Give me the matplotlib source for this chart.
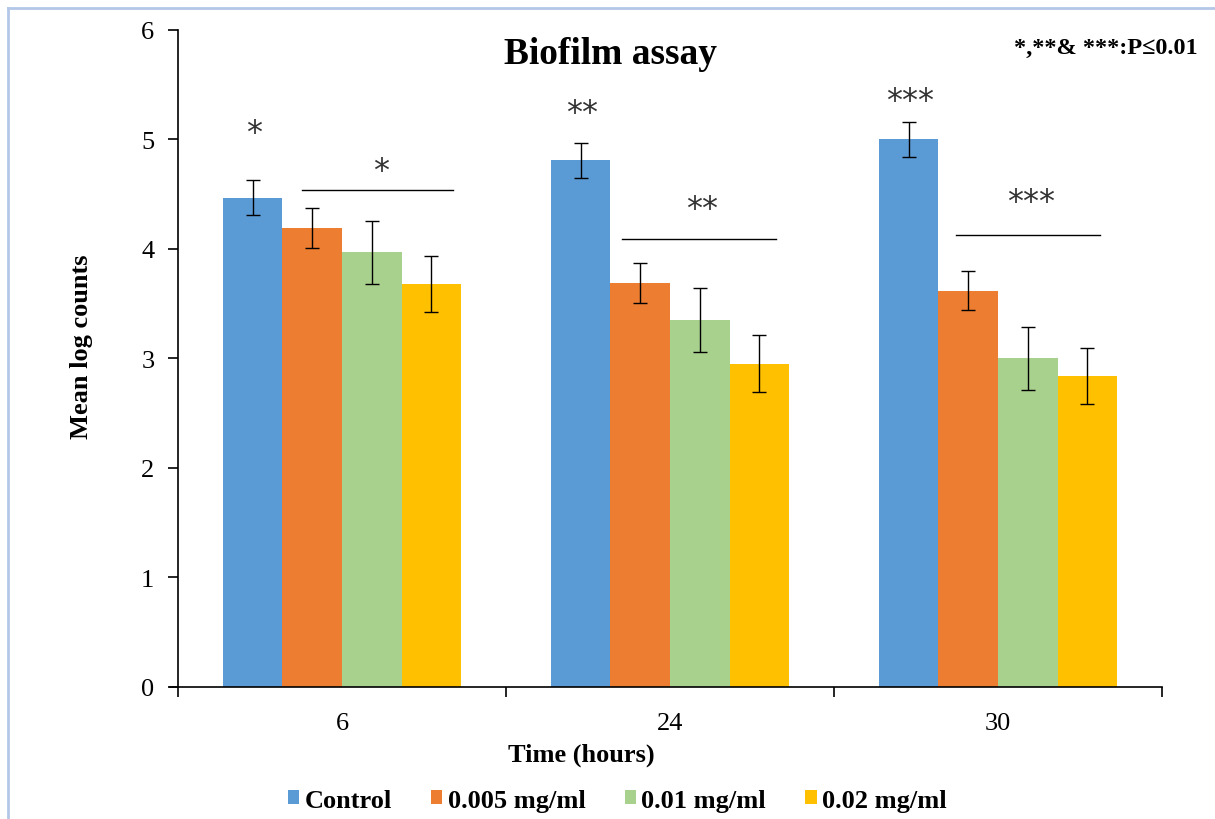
import numpy as np
import matplotlib.pyplot as plt
from matplotlib.lines import Line2D

# --- data ---
times = ["6", "24", "30"]
groups = ["Control", "0.005 mg/ml", "0.01 mg/ml", "0.02 mg/ml"]
control = [4.47, 4.81, 5.00]
c0005 = [4.19, 3.69, 3.62]
c001 = [3.97, 3.35, 3.00]
c002 = [3.68, 2.95, 2.84]
err_control = [0.16, 0.16, 0.16]
err_0005 = [0.18, 0.18, 0.18]
err_001 = [0.29, 0.29, 0.29]
err_002 = [0.26, 0.26, 0.26]
stars = ["*", "**", "***"]

colors = ["#5B9BD5", "#ED7D31", "#A9D18E", "#FFC000"]
series = [control, c0005, c001, c002]
errs = [err_control, err_0005, err_001, err_002]

# annotation layout (in data units)
star_y = [5.11, 5.30, 5.41]            # stars over control bars
line_y = [4.54, 4.09, 4.13]            # bracket lines over treated bars
line_span = [(-0.122, 0.338), (-0.146, 0.323), (-0.128, 0.311)]
line_star_gap = [0.23, 0.33, 0.35]

serif = ["Liberation Serif", "DejaVu Serif"]
plt.rcParams["font.family"] = serif

fig = plt.figure(figsize=(12.15, 8.2), dpi=100)
ax = fig.add_axes([0.1465, 0.161, 0.8099, 0.8012])

x = np.arange(len(times))
w = 1 / 5.5
offs = (np.arange(4) - 1.5) * w

for k in range(4):
    ax.bar(x + offs[k], series[k], width=w, color=colors[k], label=groups[k],
           zorder=2)
    ax.errorbar(x + offs[k], series[k], yerr=errs[k], fmt="none", ecolor="black",
                elinewidth=1.0, capsize=5, capthick=1.0, zorder=3)

# significance marks
star_font = dict(family=["DejaVu Sans"], fontsize=23, color="#333333",
                 ha="center", va="center")
for i in range(3):
    ax.text(x[i] + offs[0] + 0.005, star_y[i] - 0.05, stars[i], **star_font)
    ax.plot([x[i] + line_span[i][0], x[i] + line_span[i][1]], [line_y[i], line_y[i]],
            color="black", lw=1.0, zorder=3)
    ax.text(x[i] + (line_span[i][0] + line_span[i][1]) / 2 + 0.01,
            line_y[i] + line_star_gap[i] - 0.05, stars[i], **star_font)

ax.set_xlim(-0.5, 2.5)
ax.set_ylim(0, 6)
ax.set_yticks(range(7))
ax.set_xticks(x)
ax.set_xticklabels(times)
ax.set_xticks([-0.5, 0.5, 1.5, 2.5], minor=True)
ax.tick_params(axis="x", which="major", length=0, labelsize=19, pad=18)
ax.tick_params(axis="x", which="minor", length=7, width=1.2, direction="out")
ax.tick_params(axis="y", length=7, width=1.2, direction="out", labelsize=19, pad=10)
for s in ["top", "right"]:
    ax.spines[s].set_visible(False)
for s in ["left", "bottom"]:
    ax.spines[s].set_linewidth(1.2)
ax.spines["bottom"].set_bounds(-0.525, 2.5)

ax.set_xlabel("Time (hours)", fontsize=19, fontweight="bold")
ax.xaxis.set_label_coords(0.41, -0.085)
ax.set_ylabel("Mean log counts", fontsize=19, fontweight="bold")
ax.yaxis.set_label_coords(-0.086, 0.52)
ax.set_title("Biofilm assay", fontsize=27, fontweight="bold", x=0.44, y=0.937)

fig.text(0.986, 0.941, "*,**& ***:P\u22640.01",
         fontsize=17.5, fontweight="bold", ha="right", va="center",
         family=serif)

ax.legend(loc="lower center", bbox_to_anchor=(0.508, -0.004), bbox_transform=fig.transFigure,
          ncol=4, frameon=False, prop=dict(family=serif, weight="bold", size=19),
          handlelength=0.42, handleheight=0.42, handletextpad=0.2, columnspacing=1.5,
          borderaxespad=0.0)

# light frame on top and left edge
fig.add_artist(Line2D([0.0065, 0.0065], [0.0, 0.989], color="#B4C7E7", lw=2,
                      transform=fig.transFigure))
fig.add_artist(Line2D([0.0065, 1.0], [0.989, 0.989], color="#B4C7E7", lw=2,
                      transform=fig.transFigure))

fig.savefig("out.png", dpi=100, facecolor="white")
